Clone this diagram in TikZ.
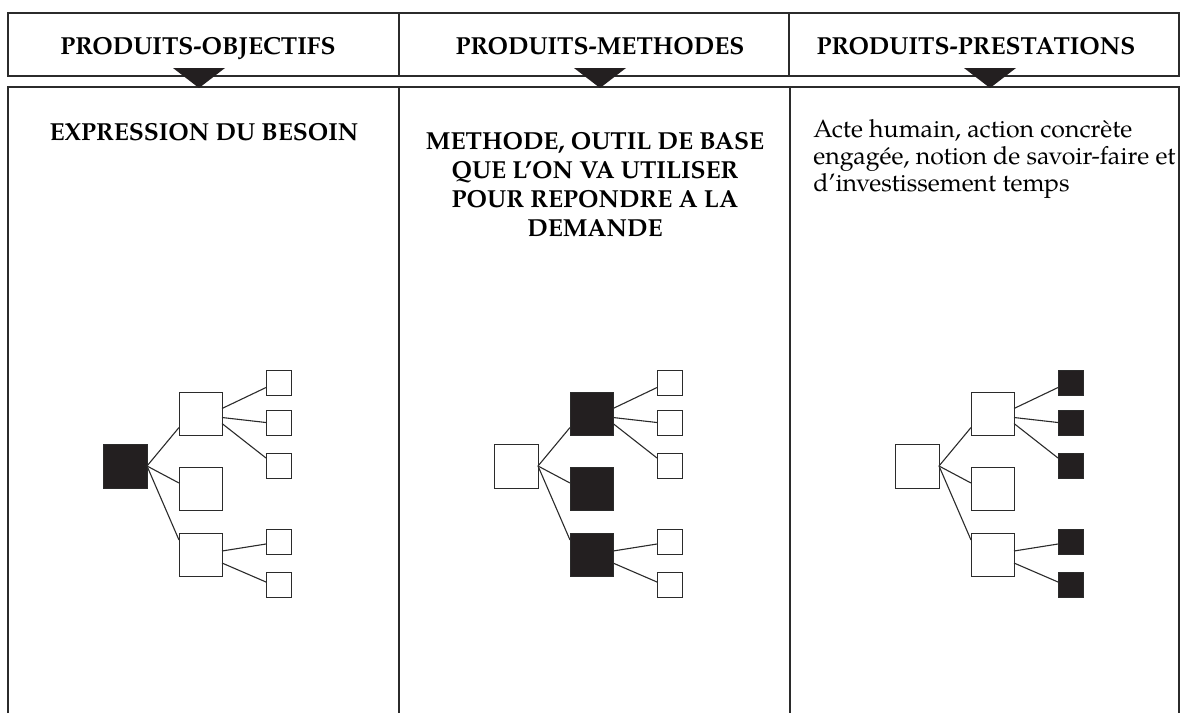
\documentclass[tikz,border=0pt]{standalone}
\usepackage{fontspec}
\setmainfont{TeX Gyre Pagella}
\definecolor{ink}{HTML}{231F20}
\definecolor{linec}{HTML}{2B2B2B}
\begin{document}
\begin{tikzpicture}[x=0.5pt,y=-0.5pt,
  frame/.style={draw=linec, line width=0.8pt},
  hdr/.style={font=\bfseries\fontsize{12.3pt}{14.5pt}\selectfont, inner sep=0pt, anchor=base},
  bodyb/.style={font=\bfseries\fontsize{12.3pt}{14.5pt}\selectfont, inner sep=0pt, align=center},
  bodyr/.style={font=\fontsize{12.45pt}{13.6pt}\selectfont, inner sep=0pt, align=left},
  tri/.style={fill=ink},
  sqbase/.style={draw=linec, line width=0.5pt, inner sep=0pt, outer sep=0pt},
  rootsq/.style={sqbase, minimum size=22pt},
  midsq/.style={sqbase, minimum size=21.5pt},
  smallsq/.style={sqbase, minimum size=12.5pt},
  link/.style={draw=linec, line width=0.55pt}
]
\useasboundingbox (0,0) rectangle (1186,713);

% frames
\draw[frame] (8,13) rectangle (1179,76);
\draw[frame] (399,13) -- (399,76);
\draw[frame] (789,13) -- (789,76);
\draw[frame] (8,713) -- (8,87) -- (1179,87) -- (1179,713);
\draw[frame] (399,87) -- (399,713);
\draw[frame] (790,87) -- (790,713);

% triangles
\fill[tri] (173,68) -- (225,68) -- (199,88) -- cycle;
\fill[tri] (574,68) -- (626,68) -- (600,88) -- cycle;
\fill[tri] (964,68) -- (1016,68) -- (990,88) -- cycle;

% headers
\node[hdr] (h1) at (198,54) {PRODUITS-OBJECTIFS};
\node[hdr] (h2) at (600,54) {PRODUITS-METHODES};
\node[hdr] (h3) at (976,54) {PRODUITS-PRESTATIONS};

% body texts
\node[hdr] (b1) at (204,140) {EXPRESSION DU BESOIN};
\node[bodyb, anchor=north] (b2) at (595,131.5) {METHODE, OUTIL DE BASE\\QUE L’ON VA UTILISER\\POUR REPONDRE A LA\\DEMANDE};
\node[bodyr, anchor=north west] (b3) at (813,119) {Acte humain, action concrète\\engagée, notion de savoir-faire et\\d’investissement temps};

% trees
\foreach \t/\L/\rf/\mf/\sf in {1/103/ink/white/white, 2/494/white/ink/white, 3/895/white/white/ink} {
  \node[rootsq, fill=\rf] (r\t) at (\L+22,466) {};
  \node[midsq, fill=\mf] (m\t a) at (\L+97.5,414) {};
  \node[midsq, fill=\mf] (m\t b) at (\L+97.5,489) {};
  \node[midsq, fill=\mf] (m\t c) at (\L+97.5,554.5) {};
  \node[smallsq, fill=\sf] (s\t a) at (\L+175.5,383) {};
  \node[smallsq, fill=\sf] (s\t b) at (\L+175.5,422.5) {};
  \node[smallsq, fill=\sf] (s\t c) at (\L+175.5,465.5) {};
  \node[smallsq, fill=\sf] (s\t d) at (\L+175.5,541.5) {};
  \node[smallsq, fill=\sf] (s\t e) at (\L+175.5,584.5) {};
  \draw[link] (r\t.east) -- ([yshift=-6.75pt]m\t a.west);
  \draw[link] (r\t.east) -- ([yshift=3pt]m\t b.west);
  \draw[link] (r\t.east) -- ([yshift=7.25pt]m\t c.west);
  \draw[link] ([yshift=2.75pt]m\t a.east) -- ([yshift=-2.25pt]s\t a.west);
  \draw[link] ([yshift=-1.75pt]m\t a.east) -- (s\t b.west);
  \draw[link] ([yshift=-4.75pt]m\t a.east) -- ([yshift=3.75pt]s\t c.west);
  \draw[link] ([yshift=1.75pt]m\t c.east) -- ([yshift=-1.25pt]s\t d.west);
  \draw[link] ([yshift=-4.25pt]m\t c.east) -- ([yshift=1.25pt]s\t e.west);
}
\end{tikzpicture}
\end{document}
